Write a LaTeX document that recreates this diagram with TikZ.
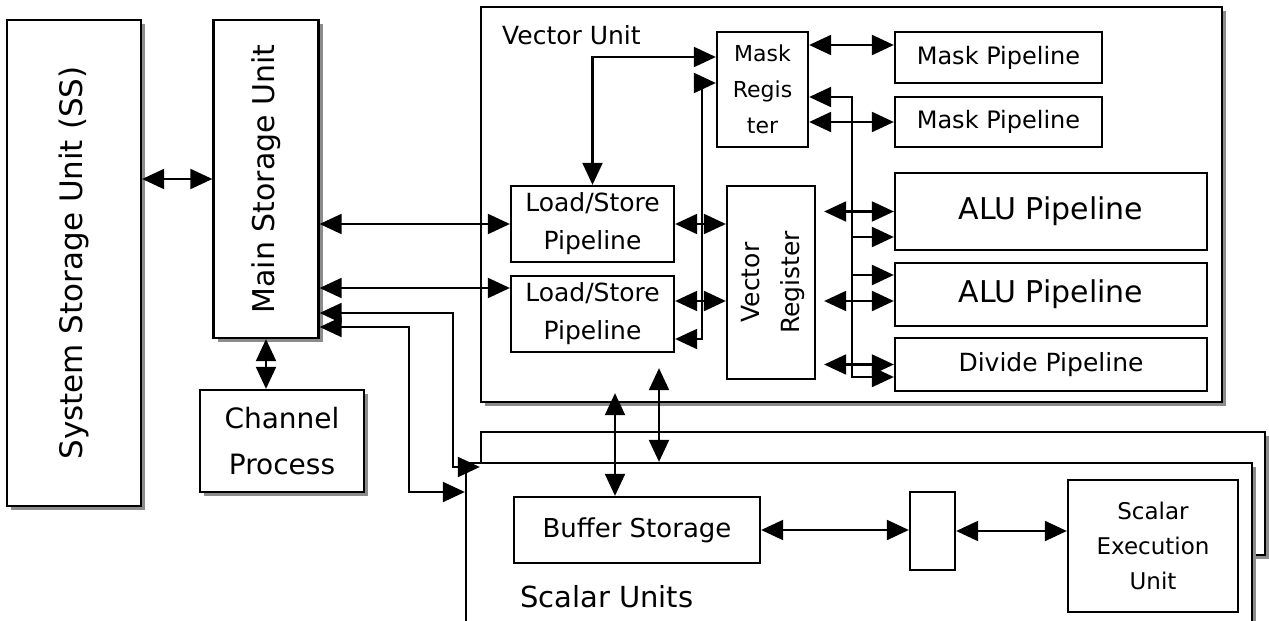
\documentclass[tikz,border=0pt]{standalone}
\usepackage{fontspec}
\setmainfont{DejaVu Sans}
\usetikzlibrary{arrows.meta,calc,shadows}

\begin{document}
\begin{tikzpicture}[x=1pt, y=-1pt,
    blk/.style={draw, line width=2.3pt, fill=white, inner sep=0pt, align=center},
    shblk/.style={blk, drop shadow={shadow xshift=4pt, shadow yshift=-4pt, fill=black!45, opacity=1}},
    link/.style={line width=2.1pt},
    >={Triangle[length=22pt, width=20pt]}]
\useasboundingbox (0,0) rectangle (1269,621);

% storage side
\node[shblk, minimum width=134, minimum height=486, font=\fontsize{31}{36}\selectfont] (ss) at (74,263) {\rotatebox{90}{System Storage Unit (SS)}};
\node[shblk, minimum width=105, minimum height=318, font=\fontsize{30}{34}\selectfont] (msu) at (266,179) {\rotatebox{90}{Main Storage Unit}};
\node[shblk, minimum width=164, minimum height=102, font=\fontsize{28}{46}\selectfont] (chan) at (282,441) {Channel\\Process};

% vector unit
\node[shblk, minimum width=741, minimum height=395] (vu) at (851.5,204.5) {};
\node[font=\fontsize{25}{29}\selectfont, anchor=base west, inner sep=0pt] (vulbl) at (502,44) {Vector Unit};
\node[blk, minimum width=91, minimum height=115, font=\fontsize{22}{36}\selectfont] (mreg) at (762.5,89.5) {Mask\\Regis\\ter};
\node[blk, minimum width=207, minimum height=51, font=\fontsize{24}{28}\selectfont] (mp1) at (998.5,57.5) {Mask Pipeline};
\node[blk, minimum width=207, minimum height=50, font=\fontsize{24}{28}\selectfont] (mp2) at (998.5,122) {Mask Pipeline};
\node[blk, minimum width=312, minimum height=77, font=\fontsize{30}{34}\selectfont] (alu1) at (1051,211.5) {ALU Pipeline};
\node[blk, minimum width=312, minimum height=63, font=\fontsize{30}{34}\selectfont] (alu2) at (1051,294.5) {ALU Pipeline};
\node[blk, minimum width=312, minimum height=53, font=\fontsize{25}{29}\selectfont] (dvp) at (1051,364.5) {Divide Pipeline};
\node[blk, minimum width=163, minimum height=76, font=\fontsize{25}{38}\selectfont] (ls1) at (592.5,224) {Load/Store\\Pipeline};
\node[blk, minimum width=163, minimum height=76, font=\fontsize{25}{38}\selectfont] (ls2) at (592.5,314) {Load/Store\\Pipeline};
\node[blk, minimum width=88, minimum height=193, font=\fontsize{25}{40}\selectfont] (vreg) at (771,282.5) {\rotatebox{90}{\begin{tabular}{@{}c@{}}Vector\\Register\end{tabular}}};

% scalar units
\node[shblk, minimum width=784, minimum height=123] (sback) at (873,493.5) {};
\node[shblk, minimum width=786, minimum height=170] (sfront) at (859,548) {};
\node[font=\fontsize{29}{33}\selectfont, anchor=base west, inner sep=0pt] (sclbl) at (520,607) {Scalar Units};
\node[blk, minimum width=246, minimum height=66, font=\fontsize{26}{30}\selectfont] (buf) at (637,530) {Buffer Storage};
\node[blk, minimum width=45, minimum height=78] (latch) at (932.5,531) {};
\node[blk, minimum width=170, minimum height=132, font=\fontsize{23}{35}\selectfont] (seu) at (1153,546) {Scalar\\Execution\\Unit};

% storage links
\draw[link,<->] (msu.west -| ss.east) -- (msu.west);
\draw[link,<->] (msu.south) -- (msu.south |- chan.north);
\draw[link,<->] (ls1.west -| msu.east) -- (ls1.west);
\coordinate (m2) at ([yshift=26pt]ls2.west);
\draw[link,<->] (m2 -| msu.east) -- (m2);
\coordinate (m3) at ([yshift=-134pt]msu.east);
\draw[link,<->] (m3) -- ++(133,0) |- ([yshift=26.5pt]sback.west);
\coordinate (m4) at ([yshift=-148pt]msu.east);
\draw[link,<->] (m4) -- ++(89,0) |- ([yshift=56pt]sfront.west);

% inside the vector unit
\draw[link,<->] (ls1.east) -- (ls1.east -| vreg.west);
\coordinate (l2) at ([yshift=13pt]ls2.east);
\draw[link,<->] (l2) -- (l2 -| vreg.west);
\draw[link,<->] ([yshift=32.5pt]mreg.west) -| (ls1.north);
\draw[link,<->] ([yshift=6.5pt]mreg.west) -- ++(-14,0) |- ([yshift=-25pt]ls2.east);
\coordinate (k1) at ([yshift=12.5pt]mp1.west);
\draw[link,<->] (k1 -| mreg.east) -- (k1);
\draw[link,<->] (mp2.west -| mreg.east) -- (mp2.west);
% bus to the pipelines
\coordinate (bus) at ([xshift=43pt,yshift=-7.5pt]mreg.east);
\draw[link,<->] ([yshift=-12.5pt]dvp.west) -| (bus) -- (bus -| mreg.east);
\coordinate (a1) at ([yshift=-25.5pt]alu1.west);
\draw[link,->] (a1 -| bus) -- (a1);
\coordinate (a2) at ([yshift=19.5pt]alu2.west);
\draw[link,->] (a2 -| bus) -- (a2);
\coordinate (vr) at ([xshift=8pt]vreg.east);
\draw[link,<->] (alu1.west -| vr) -- (alu1.west);
\coordinate (a3) at ([yshift=-6.5pt]alu2.west);
\draw[link,<->] (a3 -| vr) -- (a3);
\draw[link,<->] (dvp.west -| vr) -- (dvp.west);

% vector <-> scalar
\coordinate (v1) at ([xshift=-22pt]buf.north);
\draw[link,<->] (v1) -- ($(v1 |- vu.south)+(0,-10)$);
\coordinate (v2) at ($(ls2.south)+(66.5,15)$);
\draw[link,<->] (v2) -- (v2 |- sfront.north);

% scalar links
\draw[link,<->] (buf.east) -- (buf.east -| latch.west);
\draw[link,<->] (latch.east) -- (latch.east -| seu.west);
\end{tikzpicture}
\end{document}
